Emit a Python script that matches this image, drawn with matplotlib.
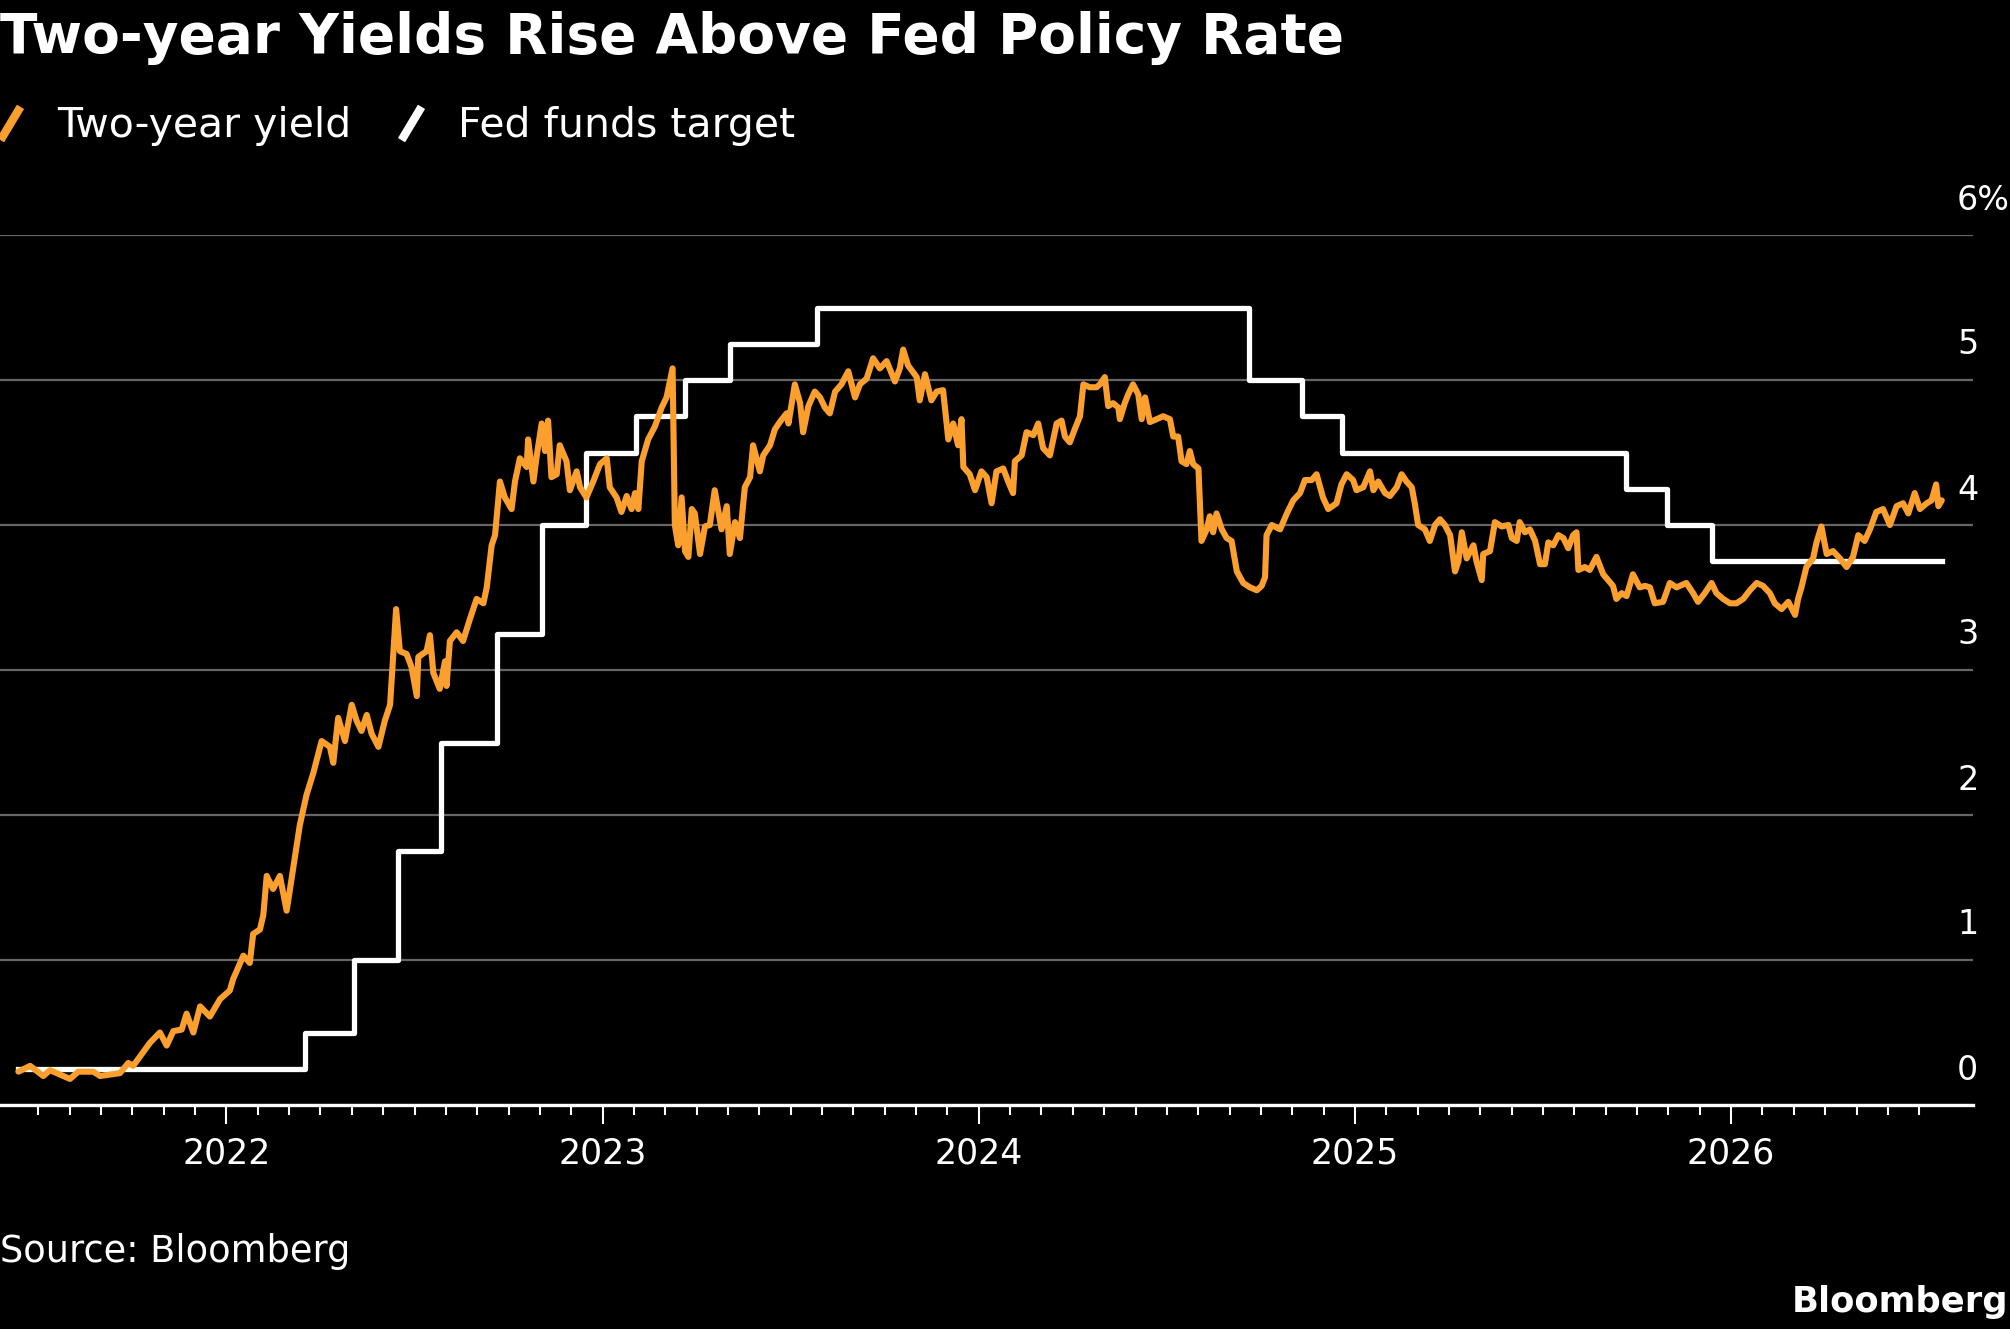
import numpy as np
import matplotlib
matplotlib.use("Agg")
import matplotlib.pyplot as plt
import matplotlib.transforms as mtransforms
from matplotlib.lines import Line2D

ORANGE = "#fb9f2f"
GRID = "#666666"

TITLE = "Two-year Yields Rise Above Fed Policy Rate"
SERIES = ["Two-year yield", "Fed funds target"]
YEARS = [2022, 2023, 2024, 2025, 2026]
Y_TICKS = [0, 1, 2, 3, 4, 5, 6]
Y_LABELS = ["0", "1", "2", "3", "4", "5", "6%"]

# two-year yield, x in decimal years
yield_t = [
    2021.447, 2021.478, 2021.513, 2021.531, 2021.584, 2021.606, 2021.646, 2021.664,
    2021.717, 2021.739, 2021.752, 2021.797, 2021.823, 2021.841, 2021.859, 2021.881,
    2021.894, 2021.912, 2021.930, 2021.956, 2021.983, 2022.009, 2022.018, 2022.045,
    2022.062, 2022.071, 2022.089, 2022.098, 2022.107, 2022.124, 2022.142, 2022.160,
    2022.169, 2022.195, 2022.213, 2022.231, 2022.253, 2022.275, 2022.284, 2022.297,
    2022.315, 2022.333, 2022.346, 2022.359, 2022.373, 2022.386, 2022.404, 2022.421,
    2022.435, 2022.451, 2022.461, 2022.479, 2022.492, 2022.506, 2022.510, 2022.532,
    2022.541, 2022.550, 2022.567, 2022.581, 2022.585, 2022.594, 2022.612, 2022.629,
    2022.647, 2022.665, 2022.683, 2022.692, 2022.705, 2022.714, 2022.727, 2022.740,
    2022.758, 2022.767, 2022.780, 2022.798, 2022.802, 2022.816, 2022.825, 2022.838,
    2022.847, 2022.855, 2022.864, 2022.878, 2022.886, 2022.904, 2022.913, 2022.931,
    2022.940, 2022.957, 2022.975, 2022.993, 2023.011, 2023.019, 2023.037, 2023.050,
    2023.064, 2023.077, 2023.086, 2023.095, 2023.104, 2023.121, 2023.139, 2023.157,
    2023.170, 2023.186, 2023.192, 2023.201, 2023.210, 2023.219, 2023.228, 2023.237,
    2023.245, 2023.259, 2023.272, 2023.285, 2023.298, 2023.316, 2023.330, 2023.338,
    2023.352, 2023.365, 2023.378, 2023.392, 2023.400, 2023.418, 2023.427, 2023.445,
    2023.458, 2023.471, 2023.489, 2023.494, 2023.511, 2023.525, 2023.533, 2023.547,
    2023.564, 2023.578, 2023.591, 2023.604, 2023.618, 2023.635, 2023.653, 2023.671,
    2023.684, 2023.702, 2023.719, 2023.737, 2023.755, 2023.777, 2023.790, 2023.799,
    2023.812, 2023.835, 2023.843, 2023.857, 2023.874, 2023.888, 2023.905, 2023.919,
    2023.932, 2023.945, 2023.954, 2023.959, 2023.976, 2023.990, 2024.007, 2024.021,
    2024.034, 2024.047, 2024.065, 2024.078, 2024.091, 2024.096, 2024.114, 2024.127,
    2024.145, 2024.158, 2024.171, 2024.189, 2024.207, 2024.220, 2024.229, 2024.242,
    2024.255, 2024.269, 2024.278, 2024.295, 2024.313, 2024.322, 2024.335, 2024.344,
    2024.357, 2024.371, 2024.375, 2024.388, 2024.397, 2024.410, 2024.424, 2024.433,
    2024.442, 2024.455, 2024.473, 2024.490, 2024.508, 2024.517, 2024.530, 2024.539,
    2024.552, 2024.561, 2024.570, 2024.584, 2024.592, 2024.606, 2024.614, 2024.623,
    2024.632, 2024.646, 2024.659, 2024.672, 2024.686, 2024.703, 2024.721, 2024.739,
    2024.752, 2024.761, 2024.765, 2024.779, 2024.801, 2024.819, 2024.836, 2024.854,
    2024.867, 2024.885, 2024.898, 2024.915, 2024.929, 2024.951, 2024.964, 2024.978,
    2024.995, 2025.004, 2025.022, 2025.040, 2025.049, 2025.062, 2025.080, 2025.093,
    2025.111, 2025.124, 2025.137, 2025.151, 2025.159, 2025.168, 2025.186, 2025.199,
    2025.213, 2025.226, 2025.239, 2025.253, 2025.266, 2025.275, 2025.284, 2025.297,
    2025.315, 2025.323, 2025.337, 2025.341, 2025.359, 2025.372, 2025.390, 2025.408,
    2025.417, 2025.430, 2025.438, 2025.452, 2025.465, 2025.479, 2025.492, 2025.505,
    2025.514, 2025.527, 2025.541, 2025.554, 2025.567, 2025.580, 2025.589, 2025.594,
    2025.611, 2025.624, 2025.642, 2025.660, 2025.673, 2025.686, 2025.695, 2025.709,
    2025.722, 2025.739, 2025.757, 2025.771, 2025.784, 2025.797, 2025.819, 2025.837,
    2025.855, 2025.881, 2025.899, 2025.912, 2025.930, 2025.948, 2025.961, 2025.979,
    2025.997, 2026.014, 2026.032, 2026.050, 2026.068, 2026.085, 2026.103, 2026.116,
    2026.134, 2026.152, 2026.170, 2026.178, 2026.187, 2026.200, 2026.218, 2026.227,
    2026.240, 2026.254, 2026.271, 2026.289, 2026.307, 2026.324, 2026.338, 2026.355,
    2026.369, 2026.386, 2026.404, 2026.422, 2026.440, 2026.457, 2026.471, 2026.488,
    2026.502, 2026.520, 2026.533, 2026.545, 2026.551, 2026.560,
]
yield_pct = [
    0.23, 0.27, 0.20, 0.24, 0.18, 0.23, 0.23, 0.20,
    0.22, 0.29, 0.27, 0.43, 0.50, 0.41, 0.51, 0.52,
    0.63, 0.50, 0.68, 0.61, 0.73, 0.79, 0.87, 1.03,
    0.98, 1.18, 1.21, 1.31, 1.58, 1.49, 1.58, 1.34,
    1.49, 1.93, 2.14, 2.29, 2.51, 2.47, 2.36, 2.67,
    2.51, 2.76, 2.65, 2.58, 2.69, 2.56, 2.47, 2.65,
    2.76, 3.42, 3.13, 3.11, 3.02, 2.82, 3.09, 3.13,
    3.24, 2.98, 2.87, 3.06, 2.89, 3.20, 3.26, 3.20,
    3.35, 3.49, 3.46, 3.57, 3.86, 3.93, 4.30, 4.19,
    4.11, 4.30, 4.46, 4.40, 4.59, 4.30, 4.48, 4.70,
    4.51, 4.72, 4.33, 4.35, 4.55, 4.44, 4.24, 4.37,
    4.26, 4.19, 4.30, 4.42, 4.46, 4.26, 4.19, 4.09,
    4.20, 4.11, 4.22, 4.11, 4.44, 4.59, 4.68, 4.81,
    4.88, 5.08, 4.00, 3.86, 4.19, 3.82, 3.78, 4.11,
    4.08, 3.80, 3.99, 4.00, 4.24, 3.97, 4.13, 3.80,
    4.02, 3.91, 4.26, 4.33, 4.55, 4.37, 4.48, 4.55,
    4.66, 4.71, 4.77, 4.70, 4.97, 4.84, 4.64, 4.82,
    4.92, 4.88, 4.81, 4.77, 4.92, 4.97, 5.06, 4.88,
    4.97, 5.01, 5.15, 5.08, 5.13, 4.99, 5.08, 5.21,
    5.10, 5.02, 4.86, 5.04, 4.86, 4.92, 4.93, 4.59,
    4.70, 4.55, 4.73, 4.40, 4.35, 4.24, 4.37, 4.33,
    4.15, 4.37, 4.39, 4.30, 4.22, 4.44, 4.48, 4.64,
    4.62, 4.70, 4.53, 4.48, 4.70, 4.72, 4.61, 4.57,
    4.66, 4.75, 4.97, 4.95, 4.95, 4.97, 5.02, 4.82,
    4.84, 4.81, 4.73, 4.84, 4.90, 4.97, 4.90, 4.73,
    4.88, 4.71, 4.73, 4.75, 4.73, 4.61, 4.61, 4.44,
    4.42, 4.51, 4.42, 4.39, 3.89, 3.97, 4.06, 3.95,
    4.08, 3.97, 3.91, 3.89, 3.68, 3.60, 3.57, 3.55,
    3.58, 3.64, 3.93, 4.00, 3.97, 4.08, 4.17, 4.22,
    4.31, 4.31, 4.35, 4.19, 4.11, 4.15, 4.28, 4.35,
    4.31, 4.24, 4.26, 4.37, 4.24, 4.30, 4.22, 4.20,
    4.26, 4.35, 4.30, 4.26, 4.15, 4.00, 3.97, 3.89,
    4.00, 4.04, 4.00, 3.93, 3.68, 3.75, 3.95, 3.77,
    3.86, 3.75, 3.62, 3.80, 3.82, 4.02, 3.99, 4.00,
    3.91, 3.89, 4.02, 3.95, 3.97, 3.89, 3.73, 3.73,
    3.88, 3.86, 3.93, 3.91, 3.84, 3.93, 3.95, 3.69,
    3.71, 3.69, 3.78, 3.66, 3.62, 3.58, 3.49, 3.53,
    3.51, 3.66, 3.57, 3.58, 3.57, 3.46, 3.47, 3.60,
    3.57, 3.60, 3.53, 3.47, 3.53, 3.60, 3.53, 3.49,
    3.46, 3.46, 3.49, 3.55, 3.60, 3.58, 3.53, 3.46,
    3.42, 3.47, 3.38, 3.49, 3.57, 3.71, 3.77, 3.88,
    3.99, 3.80, 3.82, 3.77, 3.71, 3.78, 3.93, 3.89,
    3.97, 4.09, 4.11, 4.00, 4.13, 4.15, 4.08, 4.22,
    4.11, 4.15, 4.17, 4.28, 4.13, 4.17,
]

# fed funds target (upper bound): change points, last entry = end of data
fed_t = [2021.447, 2022.210, 2022.340, 2022.455, 2022.570, 2022.720, 2022.840,
         2022.955, 2023.090, 2023.220, 2023.338, 2023.570, 2024.718, 2024.858,
         2024.966, 2025.720, 2025.830, 2025.950, 2026.560]
fed_pct = [0.25, 0.50, 1.00, 1.75, 2.50, 3.25, 4.00,
           4.50, 4.75, 5.00, 5.25, 5.50, 5.00, 4.75,
           4.50, 4.25, 4.00, 3.75, 3.75]

plt.rcParams["font.family"] = "DejaVu Sans"

W, H, DPI = 2010, 1329, 100
fig = plt.figure(figsize=(W / DPI, H / DPI), dpi=DPI, facecolor="black")
ax = fig.add_axes([0.0, 1 - 1105 / H, 1973 / W, 870 / H], facecolor="black")

ax.step(fed_t, fed_pct, where="post", color="white", lw=3.8, zorder=3)
ax.plot(yield_t, yield_pct, color=ORANGE, lw=4.4, solid_joinstyle="round",
        solid_capstyle="round", zorder=4)

ax.set_xlim(2021.398, 2026.643)
ax.set_ylim(0, 6)

for s in ("left", "right", "top"):
    ax.spines[s].set_visible(False)
ax.spines["bottom"].set_color("white")
ax.spines["bottom"].set_linewidth(2.4)
ax.spines["bottom"].set_zorder(5)

ax.set_xticks(YEARS)
ax.set_xticklabels([str(y) for y in YEARS])
ax.set_xticks([y + m / 12 for y in range(2021, 2027) for m in range(1, 12)
               if 2021.45 < y + m / 12 < 2026.55], minor=True)
ax.tick_params(axis="x", which="major", length=13.5, width=1.5, color="white",
               labelcolor="white", labelsize=25, pad=9)
ax.tick_params(axis="x", which="minor", length=7, width=1.5, color="white")

ax.set_yticks(Y_TICKS)
ax.tick_params(axis="y", which="both", length=0, labelleft=False)
ax.yaxis.grid(True, color=GRID, lw=1.6)
ax.set_axisbelow(True)

lab_tf = mtransforms.offset_copy(ax.get_yaxis_transform(), fig=fig, x=0, y=35, units="dots")
for v, lab in zip(Y_TICKS, Y_LABELS):
    ax.text(1957 / 1973, v, lab, transform=lab_tf, ha="left", va="center",
            color="white", fontsize=24, clip_on=False)

fig.text(0.0, 1 - 53 / H, TITLE, color="white", fontsize=39.5, fontweight="bold",
         ha="left", va="baseline")

slash = np.array([[-0.3, -0.5], [0.3, 0.5]])
handles = [Line2D([], [], ls="none", marker=slash, ms=24, mew=6, mec=c, mfc=c)
           for c in (ORANGE, "white")]
fig.legend(handles, SERIES, loc="center left", bbox_to_anchor=(-0.002, 1 - 126 / H),
           ncol=2, frameon=False, fontsize=29.5, handlelength=0.7, handletextpad=0.8,
           columnspacing=1.1, borderpad=0, borderaxespad=0, labelcolor="white")

fig.text(0.0, 1 - 1262 / H, "Source: Bloomberg", color="white", fontsize=26.5,
         ha="left", va="baseline")
fig.text(0.999, 1 - 1312 / H, "Bloomberg", color="white", fontsize=25.5,
         fontweight="bold", ha="right", va="baseline")

fig.savefig("out.png", dpi=DPI, facecolor="black")
